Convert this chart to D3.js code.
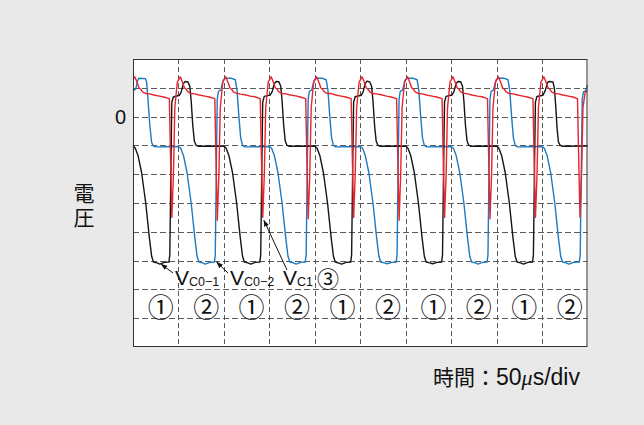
<!DOCTYPE html>
<html>
<head>
<meta charset="utf-8">
<script src="https://cdn.jsdelivr.net/npm/d3@7/dist/d3.min.js"></script>
<style>
  html, body { margin: 0; padding: 0; background: #e9e9e9; }
  svg { display: block; }
</style>
</head>
<body>
<svg id="chart" width="644" height="425"></svg>
<script>
// Time in divisions (50 µs/div), voltage in divisions (0 = reference level)
const timeDivs = [0, 1, 2, 3, 4, 5, 6, 7, 8, 9, 10];
const voltDivs = [-8, -7, -6, -5, -4, -3, -2, -1, 0, 1, 2];
const zeroLabel = "0";

// V_C0-1 (black)
const vc01 = [
  [0,-1.0],[0.05,-1.1],[0.11,-1.35],[0.19,-1.95],[0.28,-3.0],[0.36,-4.2],[0.41,-4.85],[0.45,-5.05],[0.53,-5.08],[0.59,-5.12],[0.69,-5.06],[0.79,-5.05],
  [0.81,-4.8],[0.832,-2.0],[0.854,0.5],[0.887,0.68],[1.02,0.74],[1.06,0.85],[1.11,1.15],[1.15,1.22],[1.21,1.2],[1.25,1.05],[1.28,0.55],[1.315,-0.3],[1.35,-0.85],[1.39,-1.0],[1.44,-1.03],
  [2.0,-1.02],[2.05,-1.1],[2.11,-1.35],[2.19,-1.95],[2.28,-3.0],[2.36,-4.2],[2.41,-4.85],[2.45,-5.05],[2.53,-5.08],[2.59,-5.12],[2.69,-5.06],[2.79,-5.05],
  [2.81,-4.8],[2.832,-2.0],[2.854,0.5],[2.887,0.7],[3.02,0.75],[3.06,0.86],[3.11,1.15],[3.15,1.22],[3.21,1.21],[3.25,1.05],[3.28,0.55],[3.315,-0.3],[3.35,-0.85],[3.39,-1.0],[3.44,-1.03],
  [4.0,-1.02],[4.05,-1.1],[4.11,-1.35],[4.19,-1.95],[4.28,-3.0],[4.36,-4.2],[4.41,-4.85],[4.45,-5.05],[4.53,-5.09],[4.59,-5.12],[4.69,-5.06],[4.79,-5.05],
  [4.81,-4.8],[4.832,-2.0],[4.854,0.5],[4.887,0.69],[5.02,0.74],[5.06,0.85],[5.11,1.15],[5.15,1.23],[5.21,1.2],[5.25,1.05],[5.28,0.55],[5.315,-0.3],[5.35,-0.85],[5.39,-1.0],[5.44,-1.03],
  [6.0,-1.02],[6.05,-1.1],[6.11,-1.35],[6.19,-1.95],[6.28,-3.0],[6.36,-4.2],[6.41,-4.85],[6.45,-5.05],[6.53,-5.08],[6.59,-5.11],[6.69,-5.06],[6.79,-5.05],
  [6.81,-4.8],[6.832,-2.0],[6.854,0.5],[6.887,0.7],[7.02,0.75],[7.06,0.86],[7.11,1.15],[7.15,1.22],[7.21,1.21],[7.25,1.05],[7.28,0.55],[7.315,-0.3],[7.35,-0.85],[7.39,-1.0],[7.44,-1.03],
  [8.0,-1.02],[8.05,-1.1],[8.11,-1.35],[8.19,-1.95],[8.28,-3.0],[8.36,-4.2],[8.41,-4.85],[8.45,-5.05],[8.53,-5.08],[8.59,-5.12],[8.69,-5.06],[8.79,-5.05],
  [8.81,-4.8],[8.832,-2.0],[8.854,0.5],[8.887,0.7],[9.02,0.74],[9.07,0.9],[9.12,1.18],[9.16,1.22],[9.24,1.2],[9.27,1.0],[9.30,0.4],[9.33,-0.4],[9.36,-0.88],[9.40,-1.0],[9.45,-1.03],[10.0,-1.02]
];

// V_C0-2 (blue)
const vc02 = [
  [0,0.9],[0.06,0.95],[0.10,1.25],[0.13,1.33],[0.27,1.32],[0.30,1.2],[0.33,0.6],[0.37,-0.3],[0.41,-0.9],[0.45,-1.02],[0.50,-1.05],
  [1.0,-1.04],[1.05,-1.1],[1.11,-1.35],[1.19,-1.95],[1.28,-3.0],[1.36,-4.2],[1.41,-4.85],[1.45,-5.05],[1.53,-5.08],[1.59,-5.12],[1.69,-5.06],[1.79,-5.05],
  [1.81,-4.8],[1.832,-2.0],[1.854,0.6],[1.88,0.88],[1.93,0.92],[1.96,1.1],[1.99,1.28],[2.03,1.33],[2.17,1.33],[2.25,1.28],[2.29,0.9],[2.33,0.0],[2.37,-0.75],[2.41,-1.0],[2.46,-1.05],
  [3.0,-1.04],[3.05,-1.1],[3.11,-1.35],[3.19,-1.95],[3.28,-3.0],[3.36,-4.2],[3.41,-4.85],[3.45,-5.05],[3.53,-5.08],[3.59,-5.12],[3.69,-5.06],[3.79,-5.05],
  [3.81,-4.8],[3.832,-2.0],[3.854,0.6],[3.88,0.88],[3.93,0.92],[3.96,1.1],[3.99,1.28],[4.03,1.33],[4.17,1.33],[4.25,1.28],[4.29,0.9],[4.33,0.0],[4.37,-0.75],[4.41,-1.0],[4.46,-1.05],
  [5.0,-1.04],[5.05,-1.1],[5.11,-1.35],[5.19,-1.95],[5.28,-3.0],[5.36,-4.2],[5.41,-4.85],[5.45,-5.05],[5.53,-5.08],[5.59,-5.11],[5.69,-5.06],[5.79,-5.05],
  [5.81,-4.8],[5.832,-2.0],[5.854,0.6],[5.88,0.88],[5.93,0.92],[5.96,1.1],[5.99,1.28],[6.03,1.33],[6.17,1.33],[6.25,1.28],[6.29,0.9],[6.33,0.0],[6.37,-0.75],[6.41,-1.0],[6.46,-1.05],
  [7.0,-1.04],[7.05,-1.1],[7.11,-1.35],[7.19,-1.95],[7.28,-3.0],[7.36,-4.2],[7.41,-4.85],[7.45,-5.05],[7.53,-5.08],[7.59,-5.12],[7.69,-5.06],[7.79,-5.05],
  [7.81,-4.8],[7.832,-2.0],[7.854,0.6],[7.88,0.88],[7.93,0.92],[7.96,1.1],[7.99,1.28],[8.03,1.33],[8.17,1.33],[8.25,1.28],[8.29,0.9],[8.33,0.0],[8.37,-0.75],[8.41,-1.0],[8.46,-1.05],
  [9.0,-1.04],[9.05,-1.1],[9.11,-1.35],[9.19,-1.95],[9.28,-3.0],[9.36,-4.2],[9.41,-4.85],[9.45,-5.05],[9.53,-5.08],[9.59,-5.12],[9.69,-5.06],[9.82,-5.05],
  [9.84,-4.8],[9.862,-2.0],[9.884,0.6],[9.91,0.86],[9.96,0.9],[9.99,1.05],[10.0,1.1]
];

// V_C1 (red)
const vc1 = [
  [0,1.3],[0.04,1.38],[0.10,1.15],[0.13,1.0],[0.17,0.95],[0.21,0.86],[0.28,0.8],[0.36,0.79],[0.46,0.75],[0.58,0.71],[0.68,0.68],[0.78,0.63],
  [0.80,0.62],[0.82,-1.0],[0.855,-3.5],[0.89,-2.0],[0.92,0.3],[0.975,1.2],[1.04,1.38],[1.10,1.15],[1.13,1.0],[1.17,0.95],[1.21,0.86],[1.28,0.8],[1.36,0.79],[1.46,0.75],[1.58,0.71],[1.68,0.68],[1.78,0.63],
  [1.80,0.62],[1.82,-1.0],[1.855,-3.6],[1.89,-2.0],[1.92,0.3],[1.975,1.2],[2.04,1.38],[2.10,1.15],[2.13,1.0],[2.17,0.95],[2.21,0.86],[2.28,0.81],[2.36,0.78],[2.46,0.76],[2.58,0.71],[2.68,0.69],[2.78,0.63],
  [2.80,0.62],[2.82,-1.0],[2.855,-3.5],[2.89,-2.0],[2.92,0.3],[2.975,1.2],[3.04,1.38],[3.10,1.15],[3.13,1.0],[3.17,0.95],[3.21,0.86],[3.28,0.8],[3.36,0.79],[3.46,0.75],[3.58,0.72],[3.68,0.68],[3.78,0.63],
  [3.80,0.62],[3.82,-1.0],[3.855,-3.55],[3.89,-2.0],[3.92,0.3],[3.975,1.2],[4.04,1.38],[4.10,1.15],[4.13,1.0],[4.17,0.95],[4.21,0.86],[4.28,0.8],[4.36,0.8],[4.46,0.75],[4.58,0.71],[4.68,0.68],[4.78,0.63],
  [4.80,0.62],[4.82,-1.0],[4.855,-3.5],[4.89,-2.0],[4.92,0.3],[4.975,1.2],[5.04,1.38],[5.10,1.15],[5.13,1.0],[5.17,0.95],[5.21,0.86],[5.28,0.8],[5.36,0.79],[5.46,0.76],[5.58,0.71],[5.68,0.68],[5.78,0.63],
  [5.80,0.62],[5.82,-1.0],[5.855,-3.6],[5.89,-2.0],[5.92,0.3],[5.975,1.2],[6.04,1.38],[6.10,1.15],[6.13,1.0],[6.17,0.95],[6.21,0.86],[6.28,0.8],[6.36,0.79],[6.46,0.75],[6.58,0.71],[6.68,0.68],[6.78,0.63],
  [6.80,0.62],[6.82,-1.0],[6.855,-3.5],[6.89,-2.0],[6.92,0.3],[6.975,1.2],[7.04,1.38],[7.10,1.15],[7.13,1.0],[7.17,0.95],[7.21,0.86],[7.28,0.81],[7.36,0.79],[7.46,0.75],[7.58,0.71],[7.68,0.69],[7.78,0.63],
  [7.80,0.62],[7.82,-1.0],[7.855,-3.55],[7.89,-2.0],[7.92,0.3],[7.975,1.2],[8.04,1.38],[8.10,1.15],[8.13,1.0],[8.17,0.95],[8.21,0.86],[8.28,0.8],[8.36,0.79],[8.46,0.75],[8.58,0.71],[8.68,0.68],[8.78,0.63],
  [8.80,0.62],[8.82,-1.0],[8.855,-3.5],[8.89,-2.0],[8.92,0.3],[8.975,1.2],[9.04,1.38],[9.10,1.15],[9.13,1.0],[9.17,0.95],[9.21,0.86],[9.28,0.8],[9.36,0.79],[9.46,0.75],[9.58,0.71],[9.68,0.68],[9.76,0.63],
  [9.78,0.62],[9.80,-1.0],[9.835,-3.5],[9.87,-2.0],[9.90,0.3],[9.95,0.86],[10.0,0.88]
];

const phaseLabels = ["①", "②", "①", "②", "①", "②", "①", "②", "①", "②"];
const axisTitleY = ["電", "圧"];
const axisTitleX = "時間：";
const timeScale = "50";
const unitMu = "μ";
const unitRest = "s/div";

const svg = d3.select("#chart");
const W = 644, H = 425;
const plotLeft = 133, plotRight = 587.5, plotTop = 59, plotBottom = 347;

const x = d3.scaleLinear().domain([0, 10]).range([plotLeft, plotRight]);
const y = d3.scaleLinear().domain([-8, 2]).range([plotBottom, plotTop]);

svg.append("rect").attr("width", W).attr("height", H).attr("fill", "#e9e9e9");
svg.append("rect")
  .attr("x", plotLeft).attr("y", plotTop)
  .attr("width", plotRight - plotLeft).attr("height", plotBottom - plotTop)
  .attr("fill", "#ffffff");

// dashed grid
const grid = svg.append("g").attr("stroke", "#5a5a5a").attr("stroke-width", 1).attr("fill", "none");
grid.selectAll("line.v").data(timeDivs.slice(1, -1)).join("line")
  .attr("class", "v")
  .attr("x1", d => Math.round(x(d)) + 0.5).attr("x2", d => Math.round(x(d)) + 0.5)
  .attr("y1", plotTop).attr("y2", plotBottom)
  .attr("stroke-dasharray", "5,3");
grid.selectAll("line.h").data(voltDivs.slice(1, -1)).join("line")
  .attr("class", "h")
  .attr("y1", d => Math.round(y(d)) + 0.5).attr("y2", d => Math.round(y(d)) + 0.5)
  .attr("x1", plotLeft).attr("x2", plotRight)
  .attr("stroke-dasharray", "6,3");

// traces
const line = d3.line().x(d => x(d[0])).y(d => y(d[1]));
const traces = svg.append("g").attr("fill", "none").attr("stroke-linejoin", "round");
traces.append("path").datum(vc02).attr("d", line).attr("stroke", "#1a7bc6").attr("stroke-width", 1.4);
traces.append("path").datum(vc01).attr("d", line).attr("stroke", "#151515").attr("stroke-width", 1.4);
traces.append("path").datum(vc1).attr("d", line).attr("stroke", "#e8242c").attr("stroke-width", 1.4);

// frame
svg.append("rect")
  .attr("x", plotLeft + 0.5).attr("y", plotTop + 0.5)
  .attr("width", plotRight - plotLeft - 1).attr("height", plotBottom - plotTop - 1)
  .attr("fill", "none").attr("stroke", "#333").attr("stroke-width", 1);

// zero label
svg.append("text")
  .attr("x", plotLeft - 7).attr("y", y(0))
  .attr("text-anchor", "end").attr("dominant-baseline", "central")
  .attr("font-family", "Liberation Sans, Arial, sans-serif").attr("font-size", 20)
  .attr("fill", "#111").text(zeroLabel);

// vertical axis title, stacked characters
svg.append("g").selectAll("text").data(axisTitleY).join("text")
  .attr("x", 84).attr("y", (d, i) => 192 + i * 23.5)
  .attr("dominant-baseline", "central")
  .attr("font-family", "Noto Sans CJK JP, sans-serif").attr("font-size", 21)
  .attr("text-anchor", "middle").attr("fill", "#111")
  .text(d => d);

// horizontal axis title
const xt = svg.append("text")
  .attr("x", 433).attr("y", 385)
  .attr("font-family", "Noto Sans CJK JP, sans-serif").attr("font-size", 21)
  .attr("fill", "#111");
xt.append("tspan").text(axisTitleX);
xt.append("tspan").attr("font-family", "Liberation Sans, Arial, sans-serif").attr("font-size", 23).text(timeScale);
xt.append("tspan").attr("font-family", "Liberation Serif, serif").attr("font-style", "italic").attr("font-size", 22).text(unitMu);
xt.append("tspan").attr("font-family", "Liberation Sans, Arial, sans-serif").attr("font-size", 23).text(unitRest);

// phase markers below the traces
svg.append("g").selectAll("text").data(phaseLabels).join("text")
  .attr("x", (d, i) => x(i + 0.5) + 5).attr("y", 305)
  .attr("text-anchor", "middle").attr("dominant-baseline", "central")
  .attr("font-family", "Noto Sans CJK JP, sans-serif").attr("font-size", 26)
  .attr("fill", "#111").text(d => d);

// trace labels with arrows
svg.append("defs").append("marker")
  .attr("id", "arrow").attr("viewBox", "0 0 10 10")
  .attr("refX", 9).attr("refY", 5)
  .attr("markerWidth", 7).attr("markerHeight", 7)
  .attr("orient", "auto-start-reverse")
  .append("path").attr("d", "M0,1.5 L10,5 L0,8.5 Z").attr("fill", "#111");

const callouts = [
  { name: "C0−1", vx: 175, tip: [0.62, -5.12], tail: [173, 273] },
  { name: "C0−2", vx: 230, tip: [1.84, -5.05], tail: [228, 273] },
  { name: "C1",   vx: 283, tip: [2.88, -3.6],  tail: [287, 270] }
];
callouts.forEach(c => {
  svg.append("line")
    .attr("x1", c.tail[0]).attr("y1", c.tail[1])
    .attr("x2", x(c.tip[0])).attr("y2", y(c.tip[1]))
    .attr("stroke", "#111").attr("stroke-width", 1)
    .attr("marker-end", "url(#arrow)");
  const t = svg.append("text").attr("x", c.vx).attr("y", 285)
    .attr("font-family", "Liberation Sans, Arial, sans-serif").attr("fill", "#111");
  t.append("tspan").attr("font-size", 21).text("V");
  t.append("tspan").attr("font-size", 12.5).attr("dy", 1).text(c.name);
});
svg.append("text").attr("x", 328).attr("y", 277)
  .attr("text-anchor", "middle").attr("dominant-baseline", "central")
  .attr("font-family", "Noto Sans CJK JP, sans-serif").attr("font-size", 22)
  .attr("fill", "#111").text("③");
</script>
</body>
</html>
